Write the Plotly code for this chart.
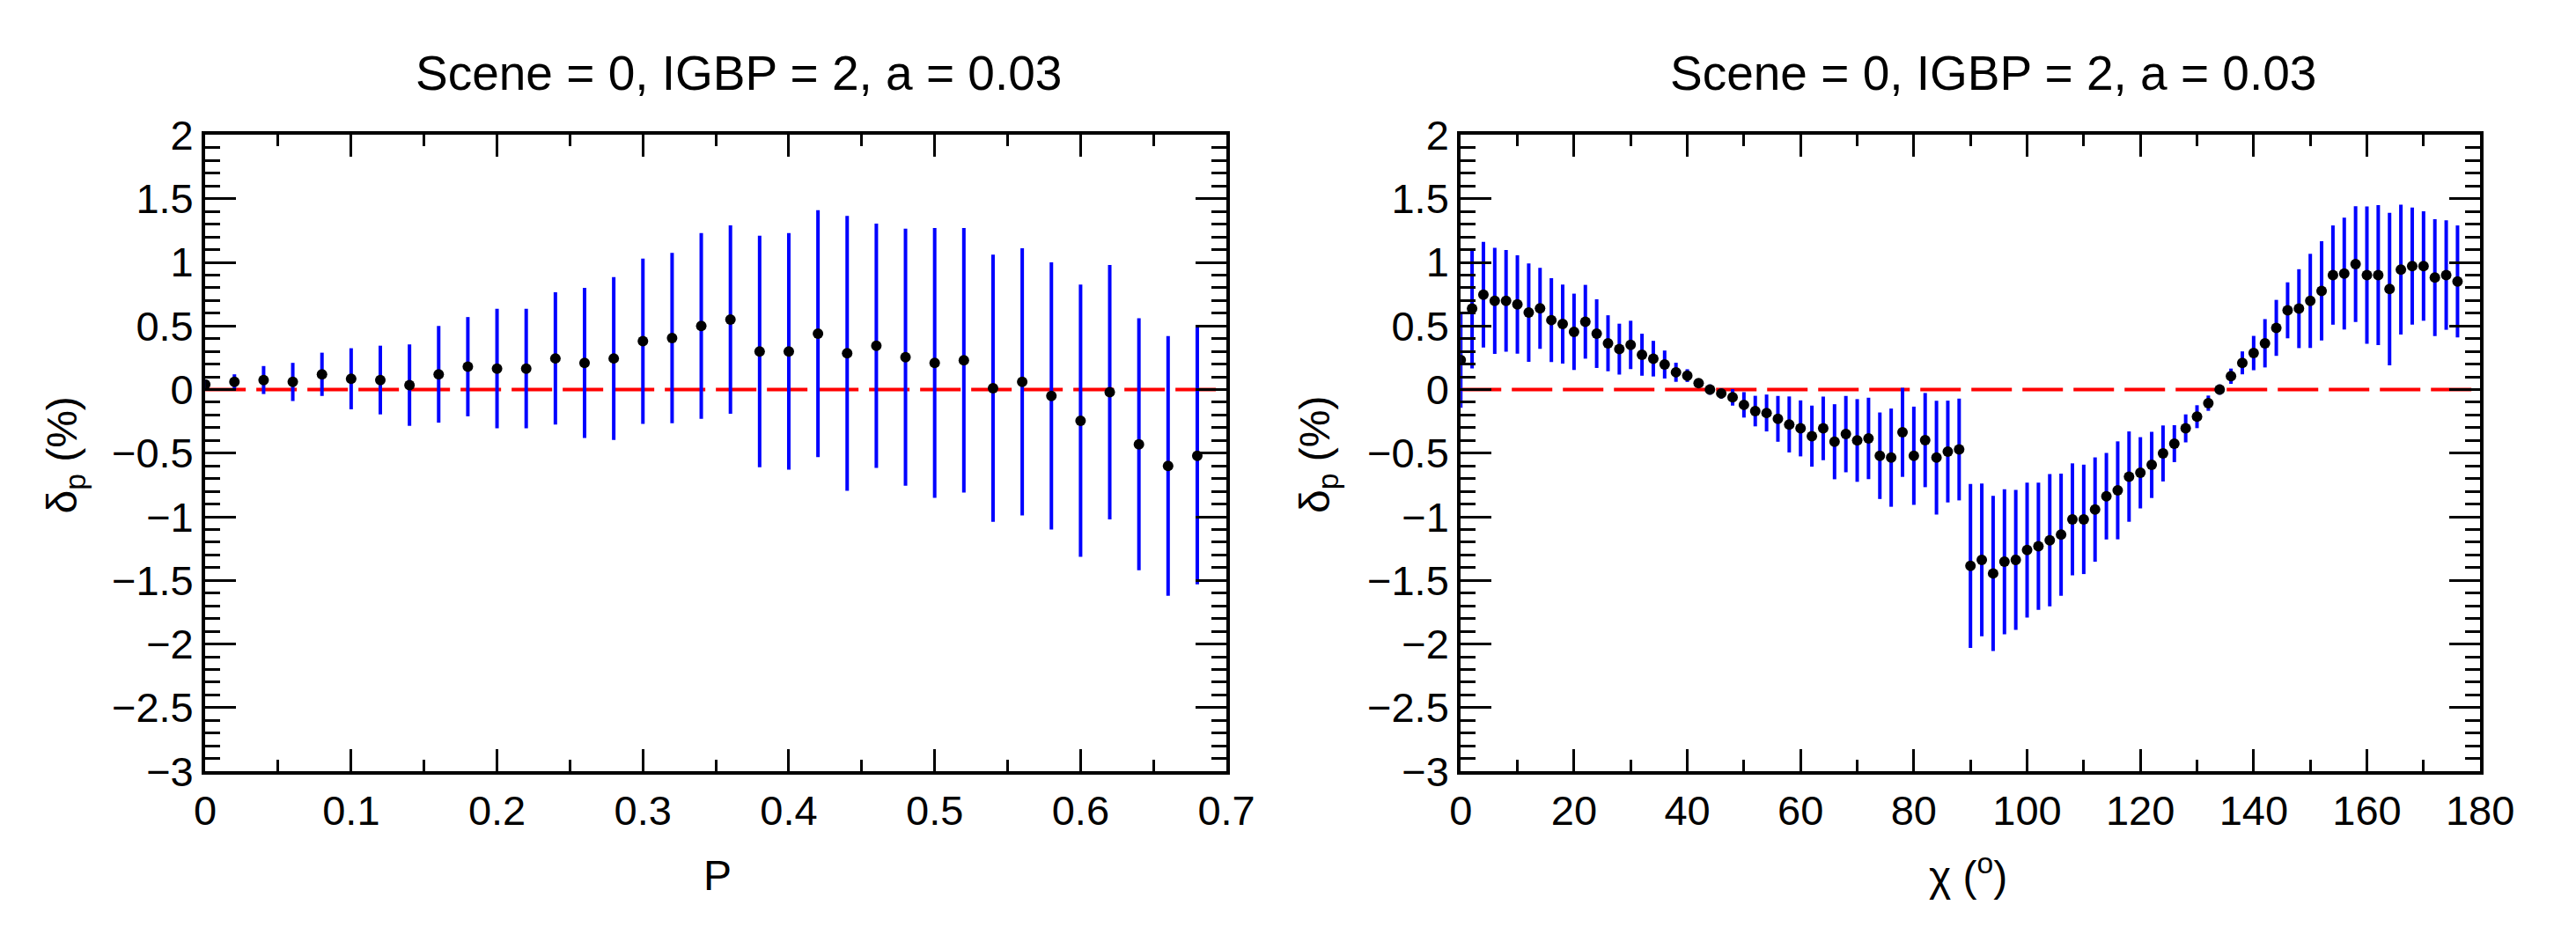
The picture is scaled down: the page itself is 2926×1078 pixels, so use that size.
import plotly.graph_objects as go
from plotly.subplots import make_subplots

# left panel: delta_p versus polarisation P
p_bins = [0.00, 0.02, 0.04, 0.06, 0.08, 0.10, 0.12, 0.14, 0.16, 0.18,
          0.20, 0.22, 0.24, 0.26, 0.28, 0.30, 0.32, 0.34, 0.36, 0.38,
          0.40, 0.42, 0.44, 0.46, 0.48, 0.50, 0.52, 0.54, 0.56, 0.58,
          0.60, 0.62, 0.64, 0.66, 0.68]
p_delta = [0.04, 0.06, 0.075, 0.06, 0.12, 0.085, 0.075, 0.035, 0.12, 0.18,
           0.165, 0.165, 0.245, 0.21, 0.245, 0.38, 0.405, 0.50, 0.55, 0.30,
           0.30, 0.44, 0.285, 0.345, 0.255, 0.21, 0.23, 0.01, 0.06, -0.05,
           -0.245, -0.02, -0.43, -0.60, -0.52]
p_err = [0.04, 0.06, 0.11, 0.15, 0.17, 0.24, 0.27, 0.32, 0.38, 0.39,
         0.47, 0.47, 0.52, 0.59, 0.64, 0.65, 0.67, 0.73, 0.74, 0.91,
         0.93, 0.97, 1.08, 0.96, 1.01, 1.06, 1.04, 1.05, 1.05, 1.05,
         1.07, 1.00, 0.99, 1.02, 1.01]

# right panel: delta_p versus polarisation angle chi (deg)
chi_bins = [0, 2, 4, 6, 8, 10, 12, 14, 16, 18,
            20, 22, 24, 26, 28, 30, 32, 34, 36, 38,
            40, 42, 44, 46, 48, 50, 52, 54, 56, 58,
            60, 62, 64, 66, 68, 70, 72, 74, 76, 78,
            80, 82, 84, 86, 88, 90, 92, 94, 96, 98,
            100, 102, 104, 106, 108, 110, 112, 114, 116, 118,
            120, 122, 124, 126, 128, 130, 132, 134, 136, 138,
            140, 142, 144, 146, 148, 150, 152, 154, 156, 158,
            160, 162, 164, 166, 168, 170, 172, 174, 176]
chi_delta = [0.232, 0.636, 0.746, 0.697, 0.697, 0.669, 0.605, 0.638, 0.546, 0.515,
             0.454, 0.533, 0.44, 0.364, 0.318, 0.351, 0.274, 0.243, 0.197, 0.136,
             0.11, 0.05, 0.0, -0.03, -0.061, -0.12, -0.169, -0.184, -0.23, -0.274,
             -0.305, -0.366, -0.305, -0.41, -0.35, -0.40, -0.384, -0.52, -0.535, -0.336,
             -0.52, -0.397, -0.535, -0.487, -0.471, -1.386, -1.338, -1.445, -1.353, -1.338,
             -1.261, -1.232, -1.184, -1.14, -1.02, -1.02, -0.943, -0.838, -0.792, -0.684,
             -0.654, -0.592, -0.502, -0.425, -0.305, -0.213, -0.107, 0.0, 0.105, 0.21,
             0.287, 0.364, 0.485, 0.623, 0.636, 0.697, 0.776, 0.90, 0.912, 0.987,
             0.90, 0.90, 0.79, 0.943, 0.971, 0.971, 0.88, 0.90, 0.85]
chi_err = [0.375, 0.47, 0.415, 0.417, 0.40, 0.386, 0.386, 0.318, 0.33, 0.31,
           0.30, 0.29, 0.27, 0.22, 0.20, 0.19, 0.165, 0.14, 0.11, 0.075,
           0.05, 0.03, 0.04, 0.04, 0.065, 0.10, 0.12, 0.145, 0.18, 0.22,
           0.22, 0.24, 0.25, 0.295, 0.30, 0.325, 0.32, 0.34, 0.386, 0.35,
           0.386, 0.37, 0.447, 0.40, 0.40, 0.645, 0.60, 0.61, 0.57, 0.55,
           0.53, 0.50, 0.52, 0.48, 0.44, 0.43, 0.41, 0.34, 0.385, 0.355,
           0.28, 0.26, 0.22, 0.145, 0.11, 0.09, 0.06, 0.04, 0.06, 0.09,
           0.135, 0.19, 0.22, 0.22, 0.31, 0.37, 0.39, 0.39, 0.44, 0.455,
           0.54, 0.55, 0.60, 0.51, 0.46, 0.43, 0.46, 0.43, 0.44]

title_text = "Scene = 0, IGBP = 2, a = 0.03"
FONT = "Liberation Sans, Arial, Helvetica, sans-serif"

fig = make_subplots(rows=1, cols=2)

for col, (xs, ys, es) in enumerate([(p_bins, p_delta, p_err),
                                     (chi_bins, chi_delta, chi_err)], start=1):
    fig.add_trace(go.Scatter(x=xs, y=ys, mode="markers",
                             marker=dict(color="black", size=12),
                             error_y=dict(type="data", array=es, color="blue",
                                          thickness=4, width=0),
                             showlegend=False), row=1, col=col)
    # reference line at zero
    fig.add_hline(y=0, line=dict(color="red", width=4, dash="46px,12px"),
                  layer="below", row=1, col=col)

common_x = dict(showline=True, linewidth=4, linecolor="black", mirror="allticks",
                ticks="inside", tickwidth=3, ticklen=25, tickcolor="black",
                showgrid=False, zeroline=False,
                tickfont=dict(family=FONT, size=47, color="black"))
common_y = dict(showline=True, linewidth=4, linecolor="black", mirror="allticks",
                ticks="inside", tickwidth=3, ticklen=35, tickcolor="black",
                showgrid=False, zeroline=False, range=[-3, 2], dtick=0.5, tick0=0,
                minor=dict(ticks="inside", dtick=0.1, ticklen=17, tickwidth=3,
                           tickcolor="black", showgrid=False),
                tickfont=dict(family=FONT, size=47, color="black"))

fig.update_layout(
    width=2926, height=1078,
    margin=dict(l=0, r=0, t=0, b=0),
    paper_bgcolor="white", plot_bgcolor="white",
    xaxis=dict(common_x, domain=[0.0766, 0.4802], range=[0, 0.7], dtick=0.1, tick0=0,
               minor=dict(ticks="inside", dtick=0.05, ticklen=13, tickwidth=3,
                          tickcolor="black", showgrid=False)),
    xaxis2=dict(common_x, domain=[0.5728, 0.9757], range=[0, 180], dtick=20, tick0=0,
                minor=dict(ticks="inside", dtick=10, ticklen=13, tickwidth=3,
                           tickcolor="black", showgrid=False)),
    yaxis=dict(common_y, domain=[0.1716, 0.8766]),
    yaxis2=dict(common_y, domain=[0.1716, 0.8766]),
)

annots = [
    dict(text=title_text, x=0.2874, y=0.9453, size=55, angle=0),
    dict(text=title_text, x=0.7833, y=0.9453, size=55, angle=0),
    dict(text="P", x=0.2792, y=0.0557, size=48, angle=0),
    dict(text="χ (<sup>o</sup>)", x=0.7734, y=0.0584, size=48, angle=0),
    dict(text="δ<sub>p</sub> (%)", x=0.0212, y=0.5223, size=48, angle=-90),
    dict(text="δ<sub>p</sub> (%)", x=0.5161, y=0.5223, size=48, angle=-90),
]
for a in annots:
    fig.add_annotation(text=a["text"], x=a["x"], y=a["y"], xref="paper", yref="paper",
                       xanchor="center", yanchor="middle", showarrow=False,
                       textangle=a["angle"],
                       font=dict(family=FONT, size=a["size"], color="black"))

# drop the default page margin so the figure sits at the window origin
fig.write_html("out.html", config={"displayModeBar": False},
               post_script="document.body.style.margin='0';")
